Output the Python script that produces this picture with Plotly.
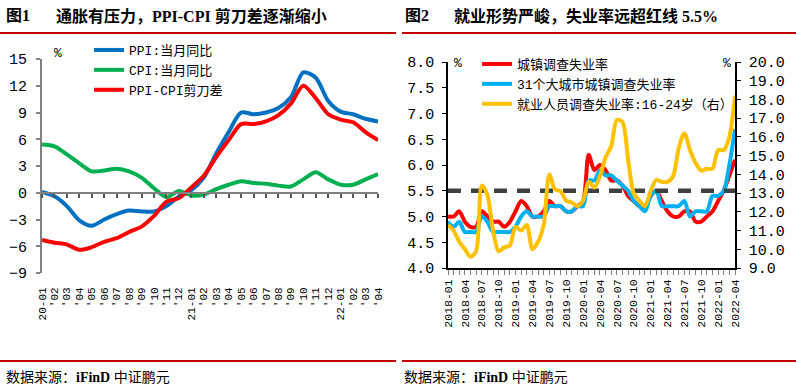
import plotly.graph_objects as go

W, H = 796, 390

# ---------------- Left chart data (2020-01 .. 2022-04) ----------------
LEFT_LABELS = ["20-01", "'02", "'03", "'04", "'05", "'06", "'07", "'08", "'09", "'10", "'11", "'12",
               "21-01", "'02", "'03", "'04", "'05", "'06", "'07", "'08", "'09", "'10", "'11", "'12",
               "22-01", "'02", "'03", "'04"]
PPI = [0.1, -0.4, -1.5, -3.1, -3.7, -3.0, -2.4, -2.0, -2.1, -2.1, -1.5, -0.4,
       0.3, 1.7, 4.4, 6.8, 9.0, 8.8, 9.0, 9.5, 10.7, 13.5, 12.9, 10.3,
       9.1, 8.8, 8.3, 8.0]
CPI = [5.4, 5.2, 4.3, 3.3, 2.4, 2.5, 2.7, 2.4, 1.7, 0.5, -0.5, 0.2,
       -0.3, -0.2, 0.4, 0.9, 1.3, 1.1, 1.0, 0.8, 0.7, 1.5, 2.3, 1.5,
       0.9, 0.9, 1.5, 2.1]
SCISSORS = [-5.3, -5.6, -5.8, -6.4, -6.1, -5.5, -5.1, -4.4, -3.8, -2.6, -1.0, -0.6,
            0.6, 1.9, 4.0, 5.9, 7.7, 7.7, 8.0, 8.7, 10.0, 12.0, 10.6, 8.8,
            8.2, 7.9, 6.8, 5.9]
LEFT_YTICKS = [-9, -6, -3, 0, 3, 6, 9, 12, 15]

# ---------------- Right chart data (2018-01 .. 2022-04) ----------------
R_MONTHS = [f"{y}-{m:02d}" for y in range(2018, 2023) for m in range(1, 13)][:52]
URBAN = [5.0, 5.0, 5.1, 4.9, 4.8, 4.8, 5.1, 5.0, 4.9, 4.9, 4.8, 4.9,
         5.1, 5.3, 5.2, 5.0, 5.0, 5.1, 5.3, 5.2, 5.2, 5.1, 5.1, 5.2,
         5.3, 6.2, 5.9, 6.0, 5.9, 5.7, 5.7, 5.6, 5.4, 5.3, 5.2, 5.2,
         5.4, 5.5, 5.3, 5.1, 5.0, 5.0, 5.1, 5.1, 4.9, 4.9, 5.0, 5.1,
         5.3, 5.5, 5.8, 6.1]
CITY31 = [4.9, 4.8, 4.9, 4.7, 4.7, 4.7, 5.0, 4.9, 4.7, 4.7, 4.7, 4.7,
          4.8, 5.0, 5.1, 5.0, 5.0, 5.0, 5.2, 5.2, 5.2, 5.1, 5.1, 5.2,
          5.2, 5.7, 5.7, 5.9, 5.8, 5.8, 5.7, 5.6, 5.5, 5.3, 5.2, 5.1,
          5.4, 5.5, 5.2, 5.2, 5.2, 5.2, 5.3, 5.0, 5.1, 5.1, 5.1, 5.4,
          5.4, 5.5, 6.0, 6.7]
YOUTH = [11.3, 11.0, 10.4, 10.0, 9.6, 9.9, 13.4, 12.9, 11.0, 9.9, 10.1, 10.2,
         11.2, 11.0, 11.3, 10.0, 10.4, 11.3, 14.0, 13.2, 13.1, 12.6, 12.5, 12.3,
         12.6, 13.6, 13.3, 13.9, 14.9, 15.5, 16.9, 16.8, 14.8, 13.0, 12.6, 12.3,
         13.1, 13.7, 13.6, 13.6, 13.9, 15.4, 16.2, 15.3, 14.6, 14.2, 14.3, 14.3,
         15.3, 15.3, 16.0, 18.2]
RED_LINE = 5.5

MONO = "Liberation Mono, DejaVu Sans Mono, monospace"
CJK = "Liberation Mono, Noto Sans CJK SC, sans-serif"
TITLE_FONT = "Liberation Serif, Noto Sans CJK SC, serif"


def fx(p):
    return p / W


def fy(p):
    return 1 - p / H


fig = go.Figure()

lx = list(range(len(LEFT_LABELS)))
fig.add_trace(go.Scatter(x=lx, y=PPI, mode="lines", name="PPI:当月同比",
                         line=dict(color="#0070C0", width=4, shape="spline", smoothing=0.8),
                         xaxis="x", yaxis="y", legend="legend"))
fig.add_trace(go.Scatter(x=lx, y=CPI, mode="lines", name="CPI:当月同比",
                         line=dict(color="#00B050", width=4, shape="spline", smoothing=0.8),
                         xaxis="x", yaxis="y", legend="legend"))
fig.add_trace(go.Scatter(x=lx, y=SCISSORS, mode="lines", name="PPI-CPI剪刀差",
                         line=dict(color="#FF0000", width=4, shape="spline", smoothing=0.8),
                         xaxis="x3", yaxis="y", legend="legend"))

rx = list(range(len(R_MONTHS)))
fig.add_trace(go.Scatter(x=rx, y=URBAN, mode="lines", name="城镇调查失业率",
                         line=dict(color="#FF0000", width=4, shape="spline", smoothing=0.8),
                         xaxis="x2", yaxis="y2", legend="legend2"))
fig.add_trace(go.Scatter(x=rx, y=CITY31, mode="lines", name="31个大城市城镇调查失业率",
                         line=dict(color="#00B0F0", width=4, shape="spline", smoothing=0.8),
                         xaxis="x2", yaxis="y2", legend="legend2"))
fig.add_trace(go.Scatter(x=rx, y=YOUTH, mode="lines", name="就业人员调查失业率:16-24岁（右）",
                         line=dict(color="#FFC000", width=4, shape="spline", smoothing=0.8),
                         xaxis="x2", yaxis="y3", legend="legend2"))
fig.add_trace(go.Scatter(x=[rx[0], rx[-1]], y=[RED_LINE, RED_LINE], mode="lines",
                         line=dict(color="#404040", width=4.5, dash="13px,10px"),
                         xaxis="x2", yaxis="y2", showlegend=False, hoverinfo="skip"))

# Left plot geometry
L_DOM_X = [fx(42), fx(378)]
L_DOM_Y = [fy(273), fy(59)]
L_RANGE = [-9, 15]
zero_pos = L_DOM_Y[0] + (0 - L_RANGE[0]) / (L_RANGE[1] - L_RANGE[0]) * (L_DOM_Y[1] - L_DOM_Y[0])

R_DOM_X = [fx(448), fx(735)]
R_DOM_Y = [fy(268), fy(62)]

fig.update_layout(
    width=W, height=H, autosize=False,
    margin=dict(l=0, r=0, t=0, b=0),
    paper_bgcolor="white", plot_bgcolor="rgba(0,0,0,0)",
    xaxis=dict(domain=L_DOM_X, range=[0, len(lx) - 1], anchor="y", automargin=False,
               tickmode="array", tickvals=lx, ticktext=LEFT_LABELS, tickangle=-90,
               ticks="outside", ticklen=9, tickcolor="rgba(0,0,0,0)",
               showline=False, showgrid=False, zeroline=False,
               tickfont=dict(family=MONO, size=11, color="black")),
    xaxis3=dict(overlaying="x", anchor="free", position=zero_pos, range=[0, len(lx) - 1],
                automargin=False,
                tickmode="array", tickvals=lx, showticklabels=False,
                ticks="outside", ticklen=4, tickwidth=1.5, tickcolor="#555555",
                showline=True, linecolor="#808080", linewidth=2,
                showgrid=False, zeroline=False),
    yaxis=dict(domain=L_DOM_Y, range=L_RANGE, anchor="x", automargin=False,
               tickmode="array", tickvals=LEFT_YTICKS, ticklabelstandoff=6,
               ticks="outside", ticklen=4, tickwidth=1.5, tickcolor="#808080",
               showline=True, linecolor="#808080", linewidth=2,
               showgrid=False, zeroline=False,
               tickfont=dict(family=MONO, size=15, color="black")),
    xaxis2=dict(domain=R_DOM_X, range=[0, len(rx) - 1], anchor="y2", automargin=False,
                tickmode="array", tickvals=rx,
                ticktext=[m if i % 3 == 0 else "" for i, m in enumerate(R_MONTHS)],
                tickangle=-90, ticks="outside", ticklen=5, tickwidth=1, tickcolor="#808080",
                showline=True, linecolor="black", linewidth=1.5,
                showgrid=False, zeroline=False,
                tickfont=dict(family=MONO, size=11.5, color="black")),
    yaxis2=dict(domain=R_DOM_Y, range=[4, 8], anchor="x2", dtick=0.5, tick0=4, automargin=False,
                tickformat=".1f", ticks="outside", ticklen=4, tickcolor="black",
                ticklabelstandoff=5,
                showline=True, linecolor="black", linewidth=1.5,
                showgrid=False, zeroline=False,
                tickfont=dict(family=MONO, size=15, color="black")),
    yaxis3=dict(range=[9, 20], anchor="x2", overlaying="y2", side="right", dtick=1, tick0=9,
                automargin=False, ticklabelstandoff=5,
                tickformat=".1f", ticks="outside", ticklen=4, tickcolor="black",
                showline=True, linecolor="black", linewidth=1.5,
                showgrid=False, zeroline=False,
                tickfont=dict(family=MONO, size=15, color="black")),
    legend=dict(x=fx(89), y=fy(35), xanchor="left", yanchor="top",
                bgcolor="rgba(0,0,0,0)", itemwidth=30, tracegroupgap=0,
                font=dict(family=CJK, size=13, color="black")),
    legend2=dict(x=fx(477), y=fy(49), xanchor="left", yanchor="top",
                 bgcolor="rgba(0,0,0,0)", itemwidth=30, tracegroupgap=0,
                 font=dict(family=CJK, size=13, color="black")),
    showlegend=True,
)

# Decorative rules (title underline & source overline)
RED = "#C00000"
shapes = []
for x0, x1 in [(0, 396), (402, 796)]:
    shapes.append(dict(type="line", xref="paper", yref="paper", x0=fx(x0), x1=fx(x1),
                       y0=fy(33), y1=fy(33), line=dict(color=RED, width=2)))
    shapes.append(dict(type="line", xref="paper", yref="paper", x0=fx(x0), x1=fx(x1),
                       y0=fy(361), y1=fy(361), line=dict(color=RED, width=2)))
fig.update_layout(shapes=shapes)

ann = []
def text(x, y, s, size, family, xanchor="left", color="black"):
    ann.append(dict(x=fx(x), y=fy(y), xref="paper", yref="paper", text=s, showarrow=False,
                    xanchor=xanchor, yanchor="middle", font=dict(family=family, size=size, color=color)))

text(4, 16, "<b>图1</b>", 16, TITLE_FONT)
text(54, 16, "<b>通胀有压力，PPI-CPI 剪刀差逐渐缩小</b>", 16, TITLE_FONT)
text(403, 16, "<b>图2</b>", 16, TITLE_FONT)
text(452, 16, "<b>就业形势严峻，失业率远超红线 5.5%</b>", 16, TITLE_FONT)
text(4, 377, "数据来源：<b>iFinD</b> 中证鹏元", 14, TITLE_FONT)
text(402, 377, "数据来源：<b>iFinD</b> 中证鹏元", 14, TITLE_FONT)
text(58, 54, "%", 13, MONO, xanchor="center")
text(458, 64, "%", 13, MONO, xanchor="center")
text(727, 64, "%", 13, MONO, xanchor="center")
fig.update_layout(annotations=ann)

fig.write_html("out.html", config={"displayModeBar": False},
               post_script="document.body.style.margin='0px';document.body.style.padding='0px';")
